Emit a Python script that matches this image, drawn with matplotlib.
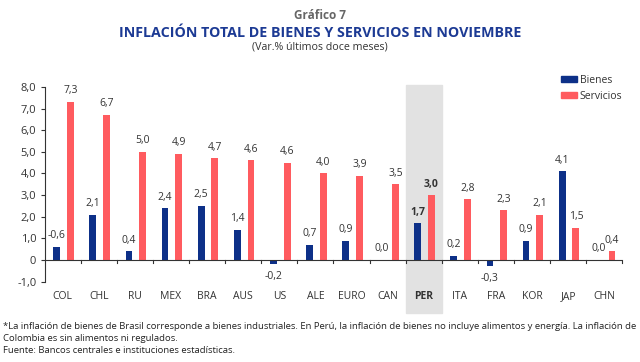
import matplotlib
matplotlib.use("Agg")
import matplotlib.pyplot as plt
from matplotlib.patches import Patch
import numpy as np

plt.rcParams["font.family"] = ["Open Sans", "DejaVu Sans"]

paises = ["COL", "CHL", "RU", "MEX", "BRA", "AUS", "US", "ALE", "EURO", "CAN",
          "PER", "ITA", "FRA", "KOR", "JAP", "CHN"]
bienes = [0.6, 2.1, 0.4, 2.4, 2.5, 1.4, -0.2, 0.7, 0.9, 0.0,
          1.7, 0.2, -0.3, 0.9, 4.1, 0.0]
servicios = [7.3, 6.7, 5.0, 4.9, 4.7, 4.6, 4.5, 4.0, 3.9, 3.5,
             3.0, 2.8, 2.3, 2.1, 1.5, 0.4]
etiq_bienes = ["-0,6", "2,1", "0,4", "2,4", "2,5", "1,4", "-0,2", "0,7", "0,9", "0,0",
               "1,7", "0,2", "-0,3", "0,9", "4,1", "0,0"]
etiq_servicios = ["7,3", "6,7", "5,0", "4,9", "4,7", "4,6", "4,6", "4,0", "3,9", "3,5",
                  "3,0", "2,8", "2,3", "2,1", "1,5", "0,4"]
yticks = [-1, 0, 1, 2, 3, 4, 5, 6, 7, 8]
ytick_labels = ["-1,0", "0", "1,0", "2,0", "3,0", "4,0", "5,0", "6,0", "7,0", "8,0"]

AZUL = "#0d3088"
ROJO = "#ff5b5f"
TXT = "#333333"
resaltado = "PER"

fig = plt.figure(figsize=(6.4, 3.62), dpi=100)
ax = fig.add_axes([0.0698, 0.222, 0.9025, 0.538])

x = np.arange(len(paises)) + 0.5
w = 0.19
ax.bar(x - 0.165, bienes, w, color=AZUL, zorder=3)
ax.bar(x + 0.215, servicios, w, color=ROJO, zorder=3)

# banda gris para Perú
ip = paises.index(resaltado)
ax.axvspan(ip, ip + 1, ymin=-0.16, ymax=1.01, color="#e2e2e2", zorder=0, clip_on=False)

for i in range(len(paises)):
    fw = "bold" if paises[i] == resaltado else "normal"
    vb = bienes[i]
    if vb < 0:
        ax.annotate(etiq_bienes[i], (x[i] - 0.165, vb), xytext=(0, -5), textcoords="offset points",
                    ha="center", va="top", fontsize=7.5, color=TXT, fontweight=fw)
    else:
        ax.annotate(etiq_bienes[i], (x[i] - 0.165, vb), xytext=(0, 4), textcoords="offset points",
                    ha="center", va="bottom", fontsize=7.5, color=TXT, fontweight=fw)
    ax.annotate(etiq_servicios[i], (x[i] + 0.215, servicios[i]), xytext=(0, 4), textcoords="offset points",
                ha="center", va="bottom", fontsize=7.5, color=TXT, fontweight=fw)

ax.set_xlim(0, len(paises))
ax.set_ylim(-1, 8)
ax.set_yticks(yticks)
ax.set_yticklabels(ytick_labels, fontsize=8, color=TXT)
ax.tick_params(axis="y", length=3, width=0.8, color=TXT, pad=3)

for s in ["top", "right", "bottom"]:
    ax.spines[s].set_visible(False)
ax.spines["left"].set_color(TXT)
ax.spines["left"].set_linewidth(0.8)

# eje en cero con marcas entre categorías
ax.axhline(0, color=TXT, lw=0.8, zorder=4)
ax.set_xticks([])
for b in range(1, len(paises) + 1):
    ax.plot([b, b], [0, -0.14], color=TXT, lw=0.8, zorder=4, clip_on=False)

for i, p in enumerate(paises):
    ax.text(x[i], -0.075, p, transform=ax.get_xaxis_transform(), ha="center", va="center",
            fontsize=7.5, color=TXT, fontweight="bold" if p == resaltado else "normal")

ax.legend(handles=[Patch(color=AZUL, label="Bienes"), Patch(color=ROJO, label="Servicios")],
          loc="upper left", bbox_to_anchor=(0.877, 1.11), frameon=False, fontsize=7.5,
          handlelength=1.6, handleheight=0.5, handletextpad=0.25, labelspacing=0.45,
          labelcolor=TXT)

fig.text(0.5, 0.958, "Gráfico 7", ha="center", va="center", fontsize=8.5,
         color="#666666", fontweight="bold")
fig.text(0.5, 0.91, "INFLACIÓN TOTAL DE BIENES Y SERVICIOS EN NOVIEMBRE", ha="center",
         va="center", fontsize=10.3, color="#1c3a94", fontweight="bold")
fig.text(0.5, 0.871, "(Var.% últimos doce meses)", ha="center", va="center",
         fontsize=7.7, color=TXT)

fig.text(0.004, 0.097, "*La inflación de bienes de Brasil corresponde a bienes industriales. "
         "En Perú, la inflación de bienes no incluye alimentos y energía. La inflación de",
         ha="left", va="center", fontsize=6.8, color="#222222")
fig.text(0.004, 0.064, "Colombia es sin alimentos ni regulados.", ha="left", va="center",
         fontsize=6.8, color="#222222")
fig.text(0.004, 0.032, "Fuente: Bancos centrales e instituciones estadísticas.", ha="left",
         va="center", fontsize=6.8, color="#222222")

fig.savefig("out.png", dpi=100)
